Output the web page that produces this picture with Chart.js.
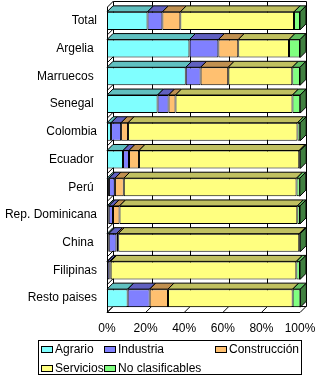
<!DOCTYPE html>
<html>
<head>
<meta charset="utf-8">
<script src="https://cdn.jsdelivr.net/npm/chart.js@4.4.1/dist/chart.umd.min.js"></script>
<style>
  html, body { margin: 0; padding: 0; background: #fff; }
  #wrap { width: 315px; height: 376px; position: relative; }
</style>
</head>
<body>
<div id="wrap"><canvas id="chart"></canvas></div>
<script>
// categories and shares (%) per sector
const countries = ['Total', 'Argelia ', 'Marruecos ', 'Senegal ', 'Colombia', 'Ecuador ', 'Perú ',
  'Rep. Dominicana', 'China ', 'Filipinas', 'Resto paises'];
const agrario      = [21.0, 42.7, 40.8, 26.2, 2.1, 8.3, 1.0, 0.9, 0.9, 0.2, 10.7];
const industria    = [7.7, 15.0, 7.7, 5.7, 5.2, 3.1, 3.1, 2.2, 4.0, 1.2, 11.4];
const construccion = [9.3, 10.3, 14.3, 3.6, 3.6, 5.2, 4.6, 3.4, 0.9, 0.5, 9.5];
const servicios    = [58.9, 26.3, 33.2, 60.6, 87.8, 83.0, 89.5, 92.1, 93.8, 96.2, 64.6];
const noClasif     = [3.1, 5.7, 4.0, 4.0, 1.4, 0.5, 1.7, 1.4, 0.5, 1.9, 4.0];
const seriesNames  = ['Agrario', 'Industria', 'Construcción', 'Servicios', 'No clasificables'];
const xTicks = [0, 20, 40, 60, 80, 100];

const front = ['#80FFFF', '#8080FF', '#FFC070', '#FFFF80', '#80FF80'];
const top_  = ['#60C0C0', '#6060C0', '#C09050', '#C0C060', '#60C060'];
const side  = ['#408080', '#404080', '#806038', '#808040', '#408040'];
const DX = 6, DY = 6;
const FONT = '12px "Liberation Sans", Arial, sans-serif';

const walls = {
  id: 'walls',
  beforeDatasetsDraw(chart) {
    const ctx = chart.ctx, a = chart.chartArea, xs = chart.scales.x;
    ctx.save();
    ctx.strokeStyle = '#000';
    ctx.lineWidth = 1;
    ctx.beginPath();
    // back wall
    ctx.rect(Math.round(a.left + DX) + 0.5, Math.round(a.top - DY) + 0.5,
      Math.round(a.right - a.left), Math.round(a.bottom - a.top));
    xTicks.slice(1, -1).forEach(v => {
      const x = Math.round(xs.getPixelForValue(v) + DX) + 0.5;
      ctx.moveTo(x, a.top - DY);
      ctx.lineTo(x, a.bottom - DY);
    });
    // left wall
    const lx = Math.round(a.left) + 0.5;
    ctx.moveTo(lx, a.top);
    ctx.lineTo(lx, a.bottom);
    const step = (a.bottom - a.top) / countries.length;
    for (let i = 0; i <= countries.length; i++) {
      const y = a.top + i * step;
      ctx.moveTo(lx, y);
      ctx.lineTo(lx + DX, y - DY);
    }
    // floor
    const by = Math.round(a.bottom) + 0.5;
    ctx.moveTo(a.left, by);
    ctx.lineTo(a.right, by);
    xTicks.forEach(v => {
      const x = xs.getPixelForValue(v);
      ctx.moveTo(x, by);
      ctx.lineTo(x + DX, by - DY);
    });
    ctx.stroke();
    ctx.restore();
  },
  afterDatasetsDraw(chart) {
    const ctx = chart.ctx;
    ctx.save();
    ctx.strokeStyle = '#000';
    ctx.lineWidth = 1;
    const n = chart.data.datasets.length;
    chart.data.datasets.forEach((ds, di) => {
      chart.getDatasetMeta(di).data.forEach(bar => {
        const p = bar.getProps(['x', 'y', 'base', 'height'], true);
        const x0 = Math.min(p.base, p.x), x1 = Math.max(p.base, p.x);
        const y0 = p.y - p.height / 2, y1 = p.y + p.height / 2;
        ctx.beginPath();
        ctx.moveTo(x0, y0);
        ctx.lineTo(x1, y0);
        ctx.lineTo(x1 + DX, y0 - DY);
        ctx.lineTo(x0 + DX, y0 - DY);
        ctx.closePath();
        ctx.fillStyle = top_[di];
        ctx.fill();
        ctx.stroke();
        if (di === n - 1) {
          ctx.beginPath();
          ctx.moveTo(x1, y0);
          ctx.lineTo(x1 + DX, y0 - DY);
          ctx.lineTo(x1 + DX, y1 - DY);
          ctx.lineTo(x1, y1);
          ctx.closePath();
          ctx.fillStyle = side[di];
          ctx.fill();
          ctx.stroke();
        }
      });
    });
    ctx.restore();
  }
};

const legendBox = {
  id: 'legendBox',
  afterDraw(chart) {
    const ctx = chart.ctx;
    ctx.save();
    ctx.strokeStyle = '#000';
    ctx.lineWidth = 1;
    ctx.strokeRect(38.5, 340.5, 263, 34);
    ctx.font = FONT;
    ctx.textBaseline = 'middle';
    const pos = [[41, 350], [104, 350], [215, 350], [41, 368.5], [104, 368.5]];
    seriesNames.forEach((name, i) => {
      const [x, y] = pos[i];
      const sy = Math.round(y - 4) + 0.5;
      ctx.fillStyle = front[i];
      ctx.fillRect(x + 0.5, sy, 11, 6);
      ctx.strokeRect(x + 0.5, sy, 11, 6);
      ctx.fillStyle = '#000';
      ctx.fillText(name, x + 14, y);
    });
    ctx.restore();
  }
};

const seriesData = [agrario, industria, construccion, servicios, noClasif];

new Chart(document.getElementById('chart'), {
  type: 'bar',
  data: {
    labels: countries,
    datasets: seriesNames.map((name, i) => ({
      label: name,
      data: seriesData[i],
      backgroundColor: front[i],
      borderColor: '#000',
      borderWidth: 1,
      borderSkipped: false,
      barPercentage: 0.65,
      categoryPercentage: 1
    }))
  },
  options: {
    indexAxis: 'y',
    responsive: true,
    maintainAspectRatio: false,
    animation: false,
    layout: { padding: { top: 7, right: 15, left: 0, bottom: 0 } },
    plugins: { legend: { display: false }, tooltip: { enabled: false } },
    scales: {
      x: {
        stacked: true,
        min: 0,
        max: 100,
        grid: { display: false, drawTicks: false },
        border: { display: false },
        ticks: { stepSize: 20, padding: 9, color: '#000', font: { family: '"Liberation Sans", Arial', size: 12 },
          callback: v => v + '%' },
        afterFit: s => { s.height = 64; s.paddingLeft = 0; s.paddingRight = 0; }
      },
      y: {
        stacked: true,
        grid: { display: false, drawTicks: false },
        border: { display: false },
        ticks: { padding: 10, color: '#000', font: { family: '"Liberation Sans", Arial', size: 12 } },
        afterFit: s => { s.width = 107; s.paddingTop = 0; s.paddingBottom = 0; }
      }
    }
  },
  plugins: [walls, legendBox]
});
</script>
</body>
</html>
